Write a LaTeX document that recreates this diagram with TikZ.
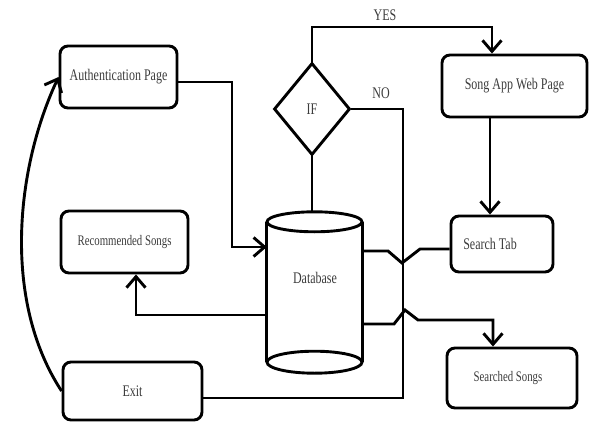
\documentclass[tikz,border=0pt]{standalone}
\usepackage{fontspec}
\setmainfont{Liberation Serif}
\usepackage{graphicx}
\usetikzlibrary{shapes.geometric,arrows.meta}
\definecolor{txtgray}{HTML}{3C3C3C}
\newcommand\tallt[1]{\scalebox{1}[1.35]{#1}}
\begin{document}
\begin{tikzpicture}[x=1pt,y=-1pt,
  lw/.style={line width=2.9pt},
  box/.style={draw=black, lw, rounded corners=8pt, fill=white, inner sep=0pt,
    font=\fontsize{12}{14}\selectfont, text=txtgray},
  smallbox/.style={box, font=\fontsize{10.8}{13}\selectfont},
  lbl/.style={font=\fontsize{12}{14}\selectfont, text=txtgray, inner sep=0pt},
  conn/.style={draw=black, lw},
  arr/.style={conn, -{Straight Barb[length=11pt,width=19pt,line width=2.9pt]}}
]
\useasboundingbox[fill=white] (0,0) rectangle (592,423);

% boxes
\node[box, minimum width=117pt, minimum height=62pt] (auth) at (118.5,77) {\tallt{Authentication Page}};
\node[box, minimum width=145pt, minimum height=62pt] (song) at (514.5,86) {\tallt{Song App Web Page}};
\node[smallbox, minimum width=127pt, minimum height=62pt] (rec) at (124.5,242) {\tallt{Recommended Songs}};
\node[box, minimum width=139pt, minimum height=58pt] (exit) at (132.5,391) {\tallt{Exit}};
\node[box, minimum width=102pt, minimum height=56pt] (search) at (502,244) {\hspace*{-24pt}\tallt{Search Tab}};
\node[smallbox, minimum width=130pt, minimum height=60pt] (searched) at (512,378) {\hspace*{-8pt}\tallt{Searched Songs}};

% decision
\node[diamond, draw=black, lw, minimum width=76pt, minimum height=92pt, inner sep=0pt,
  font=\fontsize{12}{14}\selectfont, text=txtgray] (if) at (312,109) {\tallt{IF}};

% database cylinder
\node[minimum width=95pt, minimum height=140pt, inner sep=0pt] (db) at (314.5,292) {};
\draw[lw] (db.north west) -- (db.south west);
\draw[lw] (db.north east) -- (db.south east);
\draw[lw, fill=white] (db.north) ellipse [x radius=47.5pt, y radius=10pt];
\draw[lw] (db.south) ellipse [x radius=47.5pt, y radius=11pt];
\node[lbl] (dbl) at (315,278) {\tallt{Database}};

% labels
\node[lbl] (yeslbl) at (385,15) {\tallt{YES}};
\node[lbl] (nolbl) at (381,93) {\tallt{NO}};

% coordinates
\coordinate (yes) at (492,27);
\coordinate (no1) at (403,109);
\coordinate (no2) at (403,398);
\coordinate (a1) at (232,82);
\coordinate (a2) at (232,247);
\coordinate (s1) at (490,0);
\coordinate (r1) at (136,315);
\coordinate (j1) at (388,251);
\coordinate (j2) at (402,263);
\coordinate (j3) at (420,249);
\coordinate (k1) at (394,324);
\coordinate (k2) at (405,310);
\coordinate (k3) at (418,320);
\coordinate (k4) at (493,320);
\coordinate (c1) at (2,300);
\coordinate (c2) at (16,168);

% connectors
\draw[arr] (if.north) |- (yes) -- (yes |- song.north);
\draw[conn] (if.east) -- (no1) -- (no2) -- (no2 -| exit.east);
\draw[conn] ([yshift=10pt]db.north -| if.south) -- (if.south);
\draw[arr] (a1 -| auth.east) -- (a1) -- (a2) -- (a2 -| db.west);
\draw[arr] (s1 |- song.south) -- (s1 |- search.north);
\draw[conn] (j1 -| db.east) -- (j1) -- (j2) -- (j3) -- (j3 -| search.west);
\draw[arr] (k1 -| db.east) -- (k1) -- (k2) -- (k3) -- (k4) -- (k4 |- searched.north);
\draw[arr] (r1 -| db.west) -- (r1) -- (r1 |- rec.south);
\draw[arr] (exit.west) .. controls (c1) and (c2) .. (auth.west);
\end{tikzpicture}
\end{document}
